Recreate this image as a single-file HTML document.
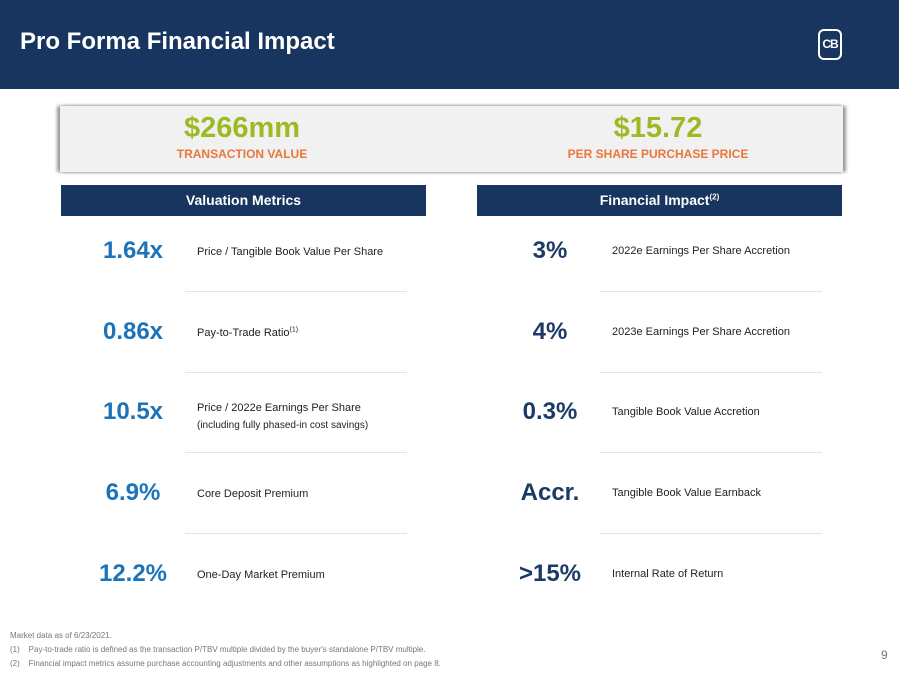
<!DOCTYPE html>
<html><head><meta charset="utf-8"><style>
body{margin:0;width:899px;height:674px;position:relative;background:#fff;font-family:"Liberation Sans",sans-serif;overflow:hidden}
.a{position:absolute}
.hdr{left:0;top:0;width:899px;height:89px;background:#17355f}
.title{left:20px;top:28px;color:#fff;font-size:24px;font-weight:bold}
.box{left:60px;top:106px;width:783px;height:66px;background:#f1f1f1;box-shadow:-3px 0 3px #999,3px 0 3px #999}
.big{font-size:29px;font-weight:bold;color:#9bba24;text-align:center;width:300px}
.lab{font-size:12px;font-weight:bold;color:#e8773a;text-align:center;width:300px}
.sec{height:31px;background:#17355f;color:#fff;font-size:14px;font-weight:bold;text-align:center;line-height:31px}
.val{font-size:24px;font-weight:bold;width:160px;text-align:center}
.l{color:#1b73ba}.r{color:#1c3a66}
.d{font-size:11px;color:#222}
.sep{height:1px;background:#e3e3e3}
.fn{font-size:8px;color:#777;left:10px}
sup{line-height:0}
</style></head><body>
<div class="a hdr"></div>
<div class="a title">Pro Forma Financial Impact</div>
<div class="a" style="left:818px;top:29px;width:24px;height:31px;border:2px solid #fff;border-radius:6px;color:#fff;font-weight:bold;font-size:12px;text-align:center;line-height:27px;box-sizing:border-box;letter-spacing:-1px">CB</div>
<div class="a box"></div>
<div class="a big" style="left:92px;top:112px">$266mm</div>
<div class="a lab" style="left:92px;top:147px">TRANSACTION VALUE</div>
<div class="a big" style="left:508px;top:112px">$15.72</div>
<div class="a lab" style="left:508px;top:147px">PER SHARE PURCHASE PRICE</div>
<div class="a sec" style="left:61px;top:185px;width:365px">Valuation Metrics</div>
<div class="a sec" style="left:477px;top:185px;width:365px">Financial Impact<sup style="font-size:8px">(2)</sup></div>
<div id="rows"></div>
<div class="a fn" style="top:631px">Market data as of 6/23/2021.</div>
<div class="a fn" style="top:645px">(1)&nbsp;&nbsp;&nbsp;&nbsp;Pay-to-trade ratio is defined as the transaction P/TBV multiple divided by the buyer's standalone P/TBV multiple.</div>
<div class="a fn" style="top:659px">(2)&nbsp;&nbsp;&nbsp;&nbsp;Financial impact metrics assume purchase accounting adjustments and other assumptions as highlighted on page 8.</div>
<div class="a" style="left:881px;top:648px;font-size:12px;color:#777">9</div>
<script>
const leftVals=["1.64x","0.86x","10.5x","6.9%","12.2%"];
const leftDesc=["Price / Tangible Book Value Per Share","Pay-to-Trade Ratio<sup style='font-size:7px'>(1)</sup>","Price / 2022e Earnings Per Share<br><span style='font-size:10px'>(including fully phased-in cost savings)</span>","Core Deposit Premium","One-Day Market Premium"];
const rightVals=["3%","4%","0.3%","Accr.",">15%"];
const rightDesc=["2022e Earnings Per Share Accretion","2023e Earnings Per Share Accretion","Tangible Book Value Accretion","Tangible Book Value Earnback","Internal Rate of Return"];
const root=document.getElementById('rows');
function add(cls,style,html){const e=document.createElement('div');e.className='a '+cls;e.style.cssText=style;e.innerHTML=html;root.appendChild(e);return e;}
for(let i=0;i<5;i++){
 const cy=252+i*80.7;
 const multi=i===2;
 let e=add('val l',`left:53px;top:${cy-15}px`,leftVals[i]);
 
 
 e=add('d',`left:197px;top:${cy-(multi?13:7)}px;line-height:${multi?17:14}px`,leftDesc[i]);
 
 
 e=add('val r',`left:470px;top:${cy-15}px`,rightVals[i]);
 
 
 e=add('d',`left:612px;top:${cy-7}px`,rightDesc[i]);
 
 
 if(i<4){
  e=add('sep',`left:185px;top:${cy+39}px;width:222px`,'');
  
  
  e=add('sep',`left:600px;top:${cy+39}px;width:222px`,'');
  
  
 }
}
</script>
</body></html>
